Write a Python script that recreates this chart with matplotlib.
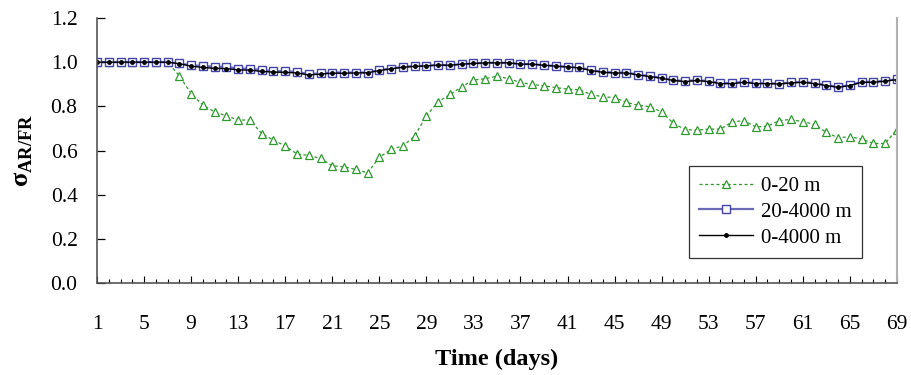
import matplotlib
matplotlib.use("Agg")
import matplotlib.pyplot as plt
import numpy as np

plt.rcParams['font.family'] = ['Liberation Serif', 'DejaVu Serif']
plt.rcParams['mathtext.fontset'] = 'custom'
plt.rcParams['mathtext.rm'] = 'Liberation Serif'
plt.rcParams['mathtext.bf'] = 'Liberation Serif:bold'

days = np.arange(1, 70)

# 0-20 m
shallow = [1.0, 1.0, 1.0, 1.0, 1.0, 1.0, 1.0, 0.938, 0.858, 0.805,
           0.775, 0.757, 0.738, 0.738, 0.677, 0.647, 0.621, 0.584, 0.578, 0.564,
           0.531, 0.526, 0.514, 0.499, 0.569, 0.605, 0.621, 0.665, 0.757, 0.820,
           0.854, 0.888, 0.919, 0.925, 0.937, 0.925, 0.908, 0.899, 0.893, 0.885,
           0.878, 0.875, 0.854, 0.843, 0.840, 0.818, 0.805, 0.798, 0.775, 0.723,
           0.695, 0.692, 0.697, 0.697, 0.730, 0.735, 0.707, 0.710, 0.735, 0.741,
           0.730, 0.719, 0.682, 0.658, 0.662, 0.652, 0.632, 0.632, 0.695]

# 20-4000 m
deep = [1.0, 1.0, 1.0, 1.0, 1.0, 1.0, 1.0, 0.994, 0.986, 0.983,
        0.979, 0.979, 0.971, 0.971, 0.964, 0.959, 0.959, 0.956, 0.946, 0.949,
        0.953, 0.953, 0.953, 0.953, 0.964, 0.971, 0.979, 0.982, 0.983, 0.988,
        0.986, 0.991, 0.994, 0.997, 0.997, 0.997, 0.991, 0.991, 0.986, 0.983,
        0.979, 0.976, 0.964, 0.956, 0.953, 0.953, 0.944, 0.937, 0.929, 0.919,
        0.914, 0.919, 0.914, 0.905, 0.905, 0.911, 0.905, 0.905, 0.903, 0.908,
        0.911, 0.905, 0.896, 0.888, 0.896, 0.911, 0.911, 0.916, 0.923]

# 0-4000 m
full = [1.0, 1.0, 1.0, 1.0, 1.0, 1.0, 1.0, 0.993, 0.982, 0.976,
        0.972, 0.971, 0.965, 0.964, 0.958, 0.955, 0.954, 0.951, 0.942, 0.946,
        0.950, 0.950, 0.951, 0.952, 0.962, 0.970, 0.977, 0.981, 0.983, 0.987,
        0.986, 0.991, 0.994, 0.997, 0.997, 0.997, 0.991, 0.991, 0.986, 0.982,
        0.978, 0.974, 0.962, 0.954, 0.951, 0.951, 0.942, 0.935, 0.927, 0.917,
        0.912, 0.917, 0.912, 0.903, 0.903, 0.909, 0.903, 0.903, 0.901, 0.906,
        0.909, 0.903, 0.894, 0.886, 0.894, 0.909, 0.909, 0.914, 0.921]

xtick_labels = list(range(1, 70, 4))

fig = plt.figure(figsize=(9.11, 3.75), dpi=100)
ax = fig.add_axes([0.1065, 0.2453, 0.878, 0.7067])

ax.plot(days, shallow, color='#2e9a2e', linestyle=(0, (2.5, 2)), linewidth=0.9,
        marker='^', markersize=6, markerfacecolor='white', markeredgecolor='#2e9a2e',
        markeredgewidth=0.9, label='0-20 m')
ax.plot(days, deep, color='#6a6ab8', linewidth=1.6,
        marker='s', markersize=5.5, markerfacecolor='white', markeredgecolor='#4444aa',
        markeredgewidth=1.0, label='20-4000 m')
ax.plot(days, full, color='black', linewidth=1.0,
        marker='o', markersize=2.5, markerfacecolor='black', markeredgecolor='black',
        label='0-4000 m')

ax.set_xlim(1, 69)
ax.set_ylim(0, 1.2)
ax.set_yticks(np.arange(0, 1.21, 0.2))
ax.set_yticklabels([f'{v:.1f}' for v in np.arange(0, 1.21, 0.2)], fontsize=15.5)
ax.set_xticks(xtick_labels)
ax.set_xticklabels([str(v) for v in xtick_labels], fontsize=15.5)
ax.set_xticks(days, minor=True)
ax.tick_params(axis='y', direction='in', length=6, width=0.9, pad=14)
ax.tick_params(axis='x', which='major', direction='in', length=5, width=0.8, pad=23)
ax.tick_params(axis='x', which='minor', direction='in', length=3, width=0.8)

ax.spines['top'].set_visible(False)
ax.spines['right'].set_color('#b0b0b0')
ax.spines['right'].set_linewidth(1.5)
ax.spines['left'].set_color('#555555')
ax.spines['left'].set_linewidth(1.2)
ax.spines['bottom'].set_color('#555555')
ax.spines['bottom'].set_linewidth(1.2)

ax.set_xlabel('Time (days)', fontsize=17.5, fontweight='bold', labelpad=11)
ax.set_ylabel(r'$\mathbf{\sigma}_{\mathbf{AR/FR}}$', fontsize=19, labelpad=11)

leg = ax.legend(loc='lower right', bbox_to_anchor=(0.97, 0.055), fontsize=15,
                frameon=True, fancybox=False, edgecolor='black', handlelength=2.6,
                borderpad=0.5, labelspacing=0.3, handletextpad=0.4)
leg.get_frame().set_linewidth(0.9)

fig.savefig('out.png', dpi=100)
